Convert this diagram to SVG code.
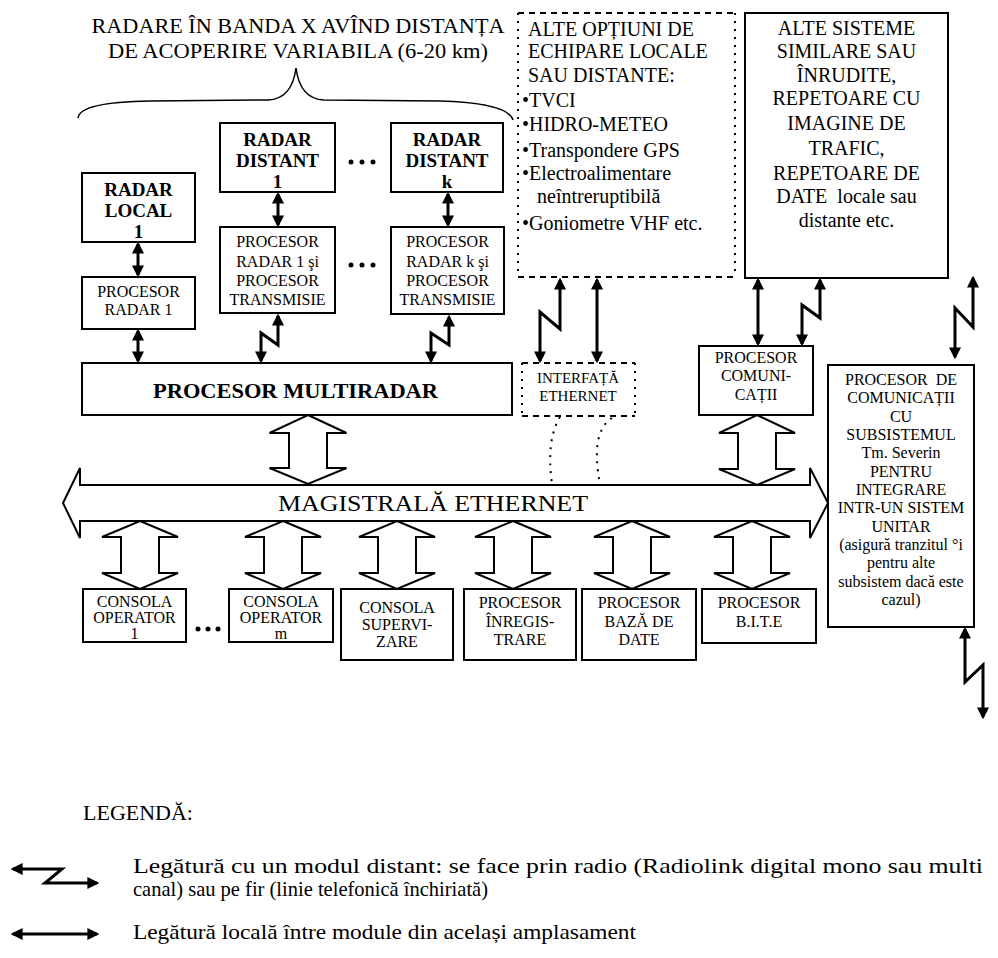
<svg xmlns="http://www.w3.org/2000/svg" width="998" height="958" viewBox="0 0 998 958" font-family="'Liberation Serif', 'Times New Roman', serif">
<defs>
<style>
.box{fill:#fff;stroke:#000;stroke-width:2}
.t{font-family:'Liberation Serif','Times New Roman',serif;fill:#000;text-anchor:middle}
.l{text-anchor:start}
.s15{font-size:15px}
.s16{font-size:16px}
.s19{font-size:19px}
.s20{font-size:20px}
.b{font-weight:bold}
.ln{stroke:#000;stroke-width:3;fill:none;marker-start:url(#ah);marker-end:url(#ah)}
.blk{fill:#fff;stroke:#000;stroke-width:2;stroke-linejoin:miter}
.dash{stroke:#000;stroke-width:2;fill:none;stroke-dasharray:6 5}
.dot{stroke:#000;stroke-width:2;fill:none;stroke-dasharray:2 6}
</style>
<marker id="ah" viewBox="0 0 10 10" refX="8" refY="5" markerWidth="4" markerHeight="4" orient="auto-start-reverse" markerUnits="strokeWidth">
<path d="M0,0 L10,5 L0,10 z" fill="#000"/>
</marker>
</defs>
<rect width="998" height="958" fill="#fff"/>

<g id="title">
<text class="t s20" x="298" y="33" textLength="413" lengthAdjust="spacingAndGlyphs">RADARE ÎN BANDA X AVÎND DISTANȚA</text>
<text class="t s20" x="298" y="58" textLength="380" lengthAdjust="spacingAndGlyphs">DE ACOPERIRE VARIABILA (6-20 km)</text>
<path d="M78,118 Q80,102 150,101 L268,100 Q292,99 296,68 Q300,99 324,100 L440,101 Q508,103 513,120" fill="none" stroke="#000" stroke-width="1.5"/>
</g>

<g id="radar_local">
<rect class="box" x="82" y="173" width="113" height="69"/>
<text class="t b s19" x="138.5" y="196">RADAR</text>
<text class="t b s19" x="138.5" y="217">LOCAL</text>
<text class="t b s19" x="138.5" y="238">1</text>
</g>
<g id="proc_radar1">
<rect class="box" x="82" y="277" width="113" height="52"/>
<text class="t s16" x="138.5" y="297">PROCESOR</text>
<text class="t s16" x="138.5" y="315">RADAR 1</text>
</g>
<g id="radar_d1">
<rect class="box" x="220" y="123" width="115" height="69"/>
<text class="t b s19" x="277.5" y="146">RADAR</text>
<text class="t b s19" x="277.5" y="167">DISTANT</text>
<text class="t b s19" x="277.5" y="188">1</text>
</g>
<g id="radar_dk">
<rect class="box" x="391" y="123" width="112" height="69"/>
<text class="t b s19" x="447" y="146">RADAR</text>
<text class="t b s19" x="447" y="167">DISTANT</text>
<text class="t b s19" x="447" y="188">k</text>
</g>
<g id="proc_d1">
<rect class="box" x="220" y="227" width="115" height="86"/>
<text class="t s16" x="277.5" y="247">PROCESOR</text>
<text class="t s16" x="277.5" y="267">RADAR 1 şi</text>
<text class="t s16" x="277.5" y="286">PROCESOR</text>
<text class="t s16" x="277.5" y="305">TRANSMISIE</text>
</g>
<g id="proc_dk">
<rect class="box" x="391" y="227" width="113" height="87"/>
<text class="t s16" x="447.5" y="247">PROCESOR</text>
<text class="t s16" x="447.5" y="267">RADAR k şi</text>
<text class="t s16" x="447.5" y="286">PROCESOR</text>
<text class="t s16" x="447.5" y="305">TRANSMISIE</text>
</g>
<g id="ellipses">
<circle cx="351" cy="162" r="2.5"/><circle cx="362" cy="162" r="2.5"/><circle cx="373" cy="162" r="2.5"/>
<circle cx="351" cy="265" r="2.5"/><circle cx="362" cy="265" r="2.5"/><circle cx="373" cy="265" r="2.5"/>
<circle cx="198" cy="629" r="2.5"/><circle cx="208" cy="629" r="2.5"/><circle cx="218" cy="629" r="2.5"/>
</g>
<g id="multiradar">
<rect class="box" x="82" y="363" width="430" height="52"/>
<text class="t b s20" x="295.5" y="398" textLength="285" lengthAdjust="spacingAndGlyphs">PROCESOR MULTIRADAR</text>
</g>
<g id="optiuni">
<line class="dash" x1="518" y1="13" x2="735" y2="13"/>
<line class="dash" x1="518" y1="277" x2="735" y2="277"/>
<line class="dot" x1="518" y1="13" x2="518" y2="277"/>
<line class="dot" x1="735" y1="13" x2="735" y2="277"/>
<text class="t l s20" x="528" y="36">ALTE OPȚIUNI DE</text>
<text class="t l s20" x="528" y="58">ECHIPARE LOCALE</text>
<text class="t l s20" x="528" y="82">SAU DISTANTE:</text>
<text class="t l s20" x="522" y="107">•TVCI</text>
<text class="t l s20" x="522" y="131">•HIDRO-METEO</text>
<text class="t l s20" x="522" y="157">•Transpondere GPS</text>
<text class="t l s20" x="522" y="180">•Electroalimentare</text>
<text class="t l s20" x="537" y="203">neîntreruptibilă</text>
<text class="t l s20" x="522" y="230">•Goniometre VHF etc.</text>
</g>
<g id="alte_sisteme">
<rect class="box" x="745" y="13" width="203" height="265"/>
<text class="t s20" x="846.5" y="35">ALTE SISTEME</text>
<text class="t s20" x="846.5" y="58">SIMILARE SAU</text>
<text class="t s20" x="846.5" y="82">ÎNRUDITE,</text>
<text class="t s20" x="846.5" y="105">REPETOARE CU</text>
<text class="t s20" x="846.5" y="130">IMAGINE DE</text>
<text class="t s20" x="846.5" y="155">TRAFIC,</text>
<text class="t s20" x="846.5" y="180">REPETOARE DE</text>
<text class="t s20" x="846.5" y="203" xml:space="preserve">DATE  locale sau</text>
<text class="t s20" x="846.5" y="227">distante etc.</text>
</g>
<g id="interfata">
<line class="dash" x1="522" y1="363" x2="635" y2="363"/>
<line class="dash" x1="522" y1="416" x2="635" y2="416"/>
<line class="dot" x1="522" y1="363" x2="522" y2="416"/>
<line class="dot" x1="635" y1="363" x2="635" y2="416"/>
<text class="t s15" x="578" y="383">INTERFAȚĂ</text>
<text class="t s15" x="578" y="401">ETHERNET</text>
</g>
<g id="proc_com">
<rect class="box" x="699" y="346" width="114" height="69"/>
<text class="t s16" x="756" y="363">PROCESOR</text>
<text class="t s16" x="756" y="381">COMUNI-</text>
<text class="t s16" x="756" y="400">CAȚII</text>
</g>
<g id="proc_subsistem">
<rect class="box" x="828" y="365" width="146" height="262"/>
<text class="t s16" x="901" y="385" xml:space="preserve">PROCESOR  DE</text>
<text class="t s16" x="901" y="403">COMUNICAȚII</text>
<text class="t s16" x="901" y="422">CU</text>
<text class="t s16" x="901" y="440">SUBSISTEMUL</text>
<text class="t s16" x="901" y="458">Tm. Severin</text>
<text class="t s16" x="901" y="477">PENTRU</text>
<text class="t s16" x="901" y="495">INTEGRARE</text>
<text class="t s16" x="901" y="513">INTR-UN SISTEM</text>
<text class="t s16" x="901" y="532">UNITAR</text>
<text class="t s16" x="901" y="550">(asigură tranzitul °i</text>
<text class="t s16" x="901" y="568">pentru alte</text>
<text class="t s16" x="901" y="587">subsistem dacă este</text>
<text class="t s16" x="901" y="605">cazul)</text>
</g>
<g id="magistrala">
<path class="blk" d="M63,503 L80,468 L80,485 L810,485 L810,468 L828,503 L810,538 L810,521 L80,521 L80,538 Z"/>
<text class="t" x="433" y="511" font-size="23" textLength="310" lengthAdjust="spacingAndGlyphs">MAGISTRALĂ ETHERNET</text>
</g>
<g id="consola_op1">
<rect class="box" x="83" y="589" width="103" height="53"/>
<text class="t s16" x="134.5" y="607">CONSOLA</text>
<text class="t s16" x="134.5" y="623">OPERATOR</text>
<text class="t s16" x="134.5" y="639">1</text>
</g>
<g id="consola_opm">
<rect class="box" x="229" y="589" width="104" height="53"/>
<text class="t s16" x="281" y="607">CONSOLA</text>
<text class="t s16" x="281" y="623">OPERATOR</text>
<text class="t s16" x="281" y="639">m</text>
</g>
<g id="consola_sup">
<rect class="box" x="341" y="589" width="112" height="71"/>
<text class="t s16" x="397" y="613">CONSOLA</text>
<text class="t s16" x="397" y="630">SUPERVI-</text>
<text class="t s16" x="397" y="647">ZARE</text>
</g>
<g id="proc_inreg">
<rect class="box" x="464" y="589" width="112" height="71"/>
<text class="t s16" x="520" y="608">PROCESOR</text>
<text class="t s16" x="520" y="627">ÎNREGIS-</text>
<text class="t s16" x="520" y="645">TRARE</text>
</g>
<g id="proc_baza">
<rect class="box" x="582" y="589" width="114" height="71"/>
<text class="t s16" x="639" y="608">PROCESOR</text>
<text class="t s16" x="639" y="627">BAZĂ DE</text>
<text class="t s16" x="639" y="645">DATE</text>
</g>
<g id="proc_bite">
<rect class="box" x="702" y="589" width="114" height="54"/>
<text class="t s16" x="759" y="608">PROCESOR</text>
<text class="t s16" x="759" y="627">B.I.T.E</text>
</g>

<g id="connectors">
<line class="ln" x1="138" y1="244" x2="138" y2="275"/>
<line class="ln" x1="138" y1="331" x2="138" y2="361"/>
<line class="ln" x1="278" y1="194" x2="278" y2="225"/>
<line class="ln" x1="448" y1="194" x2="448" y2="225"/>
<path class="ln" d="M278,316 L278,345 L261,333 L261,361"/>
<path class="ln" d="M449,317 L449,345 L431,333 L431,361"/>
<path class="ln" d="M560,280 L560,329 L540,312 L540,361"/>
<line class="ln" x1="597" y1="280" x2="597" y2="361"/>
<line class="ln" x1="758" y1="280" x2="758" y2="344"/>
<path class="ln" d="M820,280 L820,318 L802,305 L802,344"/>
<path class="ln" d="M973,278 L973,327 L955,308 L955,357"/>
<path class="ln" d="M965,629 L965,682 L983,665 L983,717"/>
<path class="dot" d="M560,417 Q546,440 552,484"/>
<path class="dot" d="M612,418 Q590,432 600,484"/>
<path class="blk" d="M308,415 L346.5,433 L327,433 L327,468 L346.5,468 L308,484 L269.5,468 L289,468 L289,433 L269.5,433 Z"/>
<path class="blk" d="M757,415 L795,433 L776,433 L776,469 L795,469 L757,485 L719,469 L738,469 L738,433 L719,433 Z"/>
<path class="blk" d="M140,521 L178,537 L159,537 L159,573 L178,573 L140,589 L102,573 L121,573 L121,537 L102,537 Z"/>
<path class="blk" d="M283,521 L321,537 L302,537 L302,573 L321,573 L283,589 L245,573 L264,573 L264,537 L245,537 Z"/>
<path class="blk" d="M397,521 L435,537 L416,537 L416,573 L435,573 L397,589 L359,573 L378,573 L378,537 L359,537 Z"/>
<path class="blk" d="M513,521 L551,537 L532,537 L532,573 L551,573 L513,589 L475,573 L494,573 L494,537 L475,537 Z"/>
<path class="blk" d="M632,521 L670,537 L651,537 L651,573 L670,573 L632,589 L594,573 L613,573 L613,537 L594,537 Z"/>
<path class="blk" d="M752,521 L790,537 L771,537 L771,573 L790,573 L752,589 L714,573 L733,573 L733,537 L714,537 Z"/>
</g>

<g id="legend">
<text class="t l" x="83" y="820" font-size="22">LEGENDĂ:</text>
<path class="ln" d="M13,869 L62,869 L45,883 L97,883"/>
<text class="t l" x="133" y="873" font-size="22" textLength="850" lengthAdjust="spacingAndGlyphs">Legătură cu un modul distant: se face prin radio (Radiolink digital mono sau multi</text>
<text class="t l" x="133" y="896" font-size="22" textLength="355" lengthAdjust="spacingAndGlyphs">canal) sau pe fir (linie telefonică închiriată)</text>
<line class="ln" x1="13" y1="934" x2="97" y2="934"/>
<text class="t l" x="133" y="939" font-size="22" textLength="503" lengthAdjust="spacingAndGlyphs">Legătură locală între module din același amplasament</text>
</g>
</svg>
